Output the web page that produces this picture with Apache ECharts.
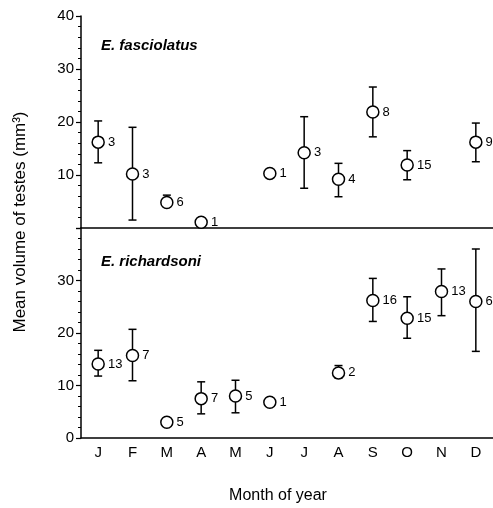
<!DOCTYPE html>
<html>
<head>
<meta charset="utf-8">
<script src="https://cdn.jsdelivr.net/npm/echarts@6/dist/echarts.min.js"></script>
<style>
  html, body { margin: 0; padding: 0; background: #fff; }
  #chart { width: 493px; height: 508px; }
</style>
</head>
<body>
<div id="chart"></div>
<script>
// month categories
const months = ['J', 'F', 'M', 'A', 'M', 'J', 'J', 'A', 'S', 'O', 'N', 'D'];
const yTicks = [0, 10, 20, 30, 40];

// E. fasciolatus (top panel)
const fascMean = [16.2, 10.2, 4.8, 1.1, null, 10.3, 14.2, 9.2, 21.9, 11.9, null, 16.2];
const fascLow  = [12.3, 1.5, 4.0, null, null, null, 7.5, 5.9, 17.2, 9.1, null, 12.5];
const fascHigh = [20.2, 19.0, 6.2, null, null, null, 21.0, 12.2, 26.6, 14.6, null, 19.8];
const fascN    = [3, 3, 6, 1, null, 1, 3, 4, 8, 15, null, 9];

// E. richardsoni (bottom panel)
const richMean = [14.1, 15.7, 3.0, 7.5, 8.0, 6.8, null, 12.4, 26.2, 22.8, 27.9, 26.0];
const richLow  = [11.8, 10.9, null, 4.6, 4.8, null, null, 11.4, 22.2, 19.0, 23.3, 16.5];
const richHigh = [16.7, 20.7, null, 10.7, 11.0, null, null, 13.8, 30.4, 26.9, 32.2, 36.0];
const richN    = [13, 7, 5, 7, 5, 1, null, 2, 16, 15, 13, 6];

const font = 'Liberation Sans, Arial, sans-serif';

function points(mean, n) {
  const out = [];
  mean.forEach((v, i) => { if (v != null) out.push([i, v, n[i]]); });
  return out;
}
function bars(low, high) {
  const out = [];
  low.forEach((v, i) => { if (v != null) out.push([i, v, high[i]]); });
  return out;
}

function renderBar(params, api) {
  const lo = api.coord([api.value(0), api.value(1)]);
  const hi = api.coord([api.value(0), api.value(2)]);
  const cap = 4;
  const style = { stroke: '#000', lineWidth: 1.5 };
  return {
    type: 'group',
    children: [
      { type: 'line', shape: { x1: lo[0], y1: lo[1], x2: hi[0], y2: hi[1] }, style },
      { type: 'line', shape: { x1: lo[0] - cap, y1: lo[1], x2: lo[0] + cap, y2: lo[1] }, style },
      { type: 'line', shape: { x1: hi[0] - cap, y1: hi[1], x2: hi[0] + cap, y2: hi[1] }, style }
    ]
  };
}

function xAxis(gridIndex, showLabels) {
  return {
    type: 'category',
    gridIndex: gridIndex,
    data: months,
    boundaryGap: true,
    axisLine: { lineStyle: { color: '#000', width: 1.5 } },
    axisTick: { alignWithLabel: true, length: 5, lineStyle: { color: '#000', width: 1.2 } },
    axisLabel: { show: showLabels, color: '#000', fontSize: 15, fontFamily: font, margin: 7 },
    splitLine: { show: false }
  };
}

// top panel hides its 0 label, bottom panel hides its 40 label
function yAxis(gridIndex, hidden) {
  return {
    type: 'value',
    gridIndex: gridIndex,
    min: yTicks[0],
    max: yTicks[yTicks.length - 1],
    interval: 10,
    axisLine: { show: true, lineStyle: { color: '#000', width: 1.5 } },
    axisTick: { show: true, length: 5, lineStyle: { color: '#000', width: 1.2 } },
    minorTick: { show: true, splitNumber: 5, length: 3, lineStyle: { color: '#000', width: 1 } },
    axisLabel: {
      color: '#000', fontSize: 15, fontFamily: font, margin: 7,
      formatter: v => v === hidden ? '' : String(v)
    },
    splitLine: { show: false }
  };
}

function scatter(idx, data) {
  return {
    type: 'scatter',
    xAxisIndex: idx,
    yAxisIndex: idx,
    z: 3,
    symbol: 'circle',
    symbolSize: 12,
    itemStyle: { color: '#fff', borderColor: '#000', borderWidth: 1.5, opacity: 1 },
    label: {
      show: true, position: 'right', distance: 3,
      formatter: p => p.value[2], color: '#000', fontSize: 13, fontFamily: font
    },
    data: data
  };
}

function errorBars(idx, data) {
  return {
    type: 'custom',
    xAxisIndex: idx,
    yAxisIndex: idx,
    z: 2,
    renderItem: renderBar,
    encode: { x: 0, y: [1, 2] },
    data: data
  };
}

const chart = echarts.init(document.getElementById('chart'));
chart.setOption({
  animation: false,
  grid: [
    { left: 81, right: 0, top: 16, height: 212 },
    { left: 81, right: 0, top: 228, height: 210 }
  ],
  xAxis: [xAxis(0, false), xAxis(1, true)],
  yAxis: [yAxis(0, 0), yAxis(1, 40)],
  series: [
    errorBars(0, bars(fascLow, fascHigh)),
    scatter(0, points(fascMean, fascN)),
    errorBars(1, bars(richLow, richHigh)),
    scatter(1, points(richMean, richN))
  ],
  graphic: [
    {
      type: 'text', left: 101, top: 38,
      style: { text: 'E. fasciolatus', font: 'italic bold 15px ' + font, fill: '#000' }
    },
    {
      type: 'text', left: 101, top: 254,
      style: { text: 'E. richardsoni', font: 'italic bold 15px ' + font, fill: '#000' }
    },
    {
      type: 'text', x: 278, y: 496,
      style: { text: 'Month of year', font: '16px ' + font, fill: '#000', align: 'center', verticalAlign: 'middle' }
    },
    {
      type: 'text', x: 20, y: 222, rotation: Math.PI / 2,
      style: { text: 'Mean volume of testes (mm³)', font: '17px ' + font, fill: '#000', align: 'center', verticalAlign: 'middle' }
    }
  ]
});
</script>
</body>
</html>
